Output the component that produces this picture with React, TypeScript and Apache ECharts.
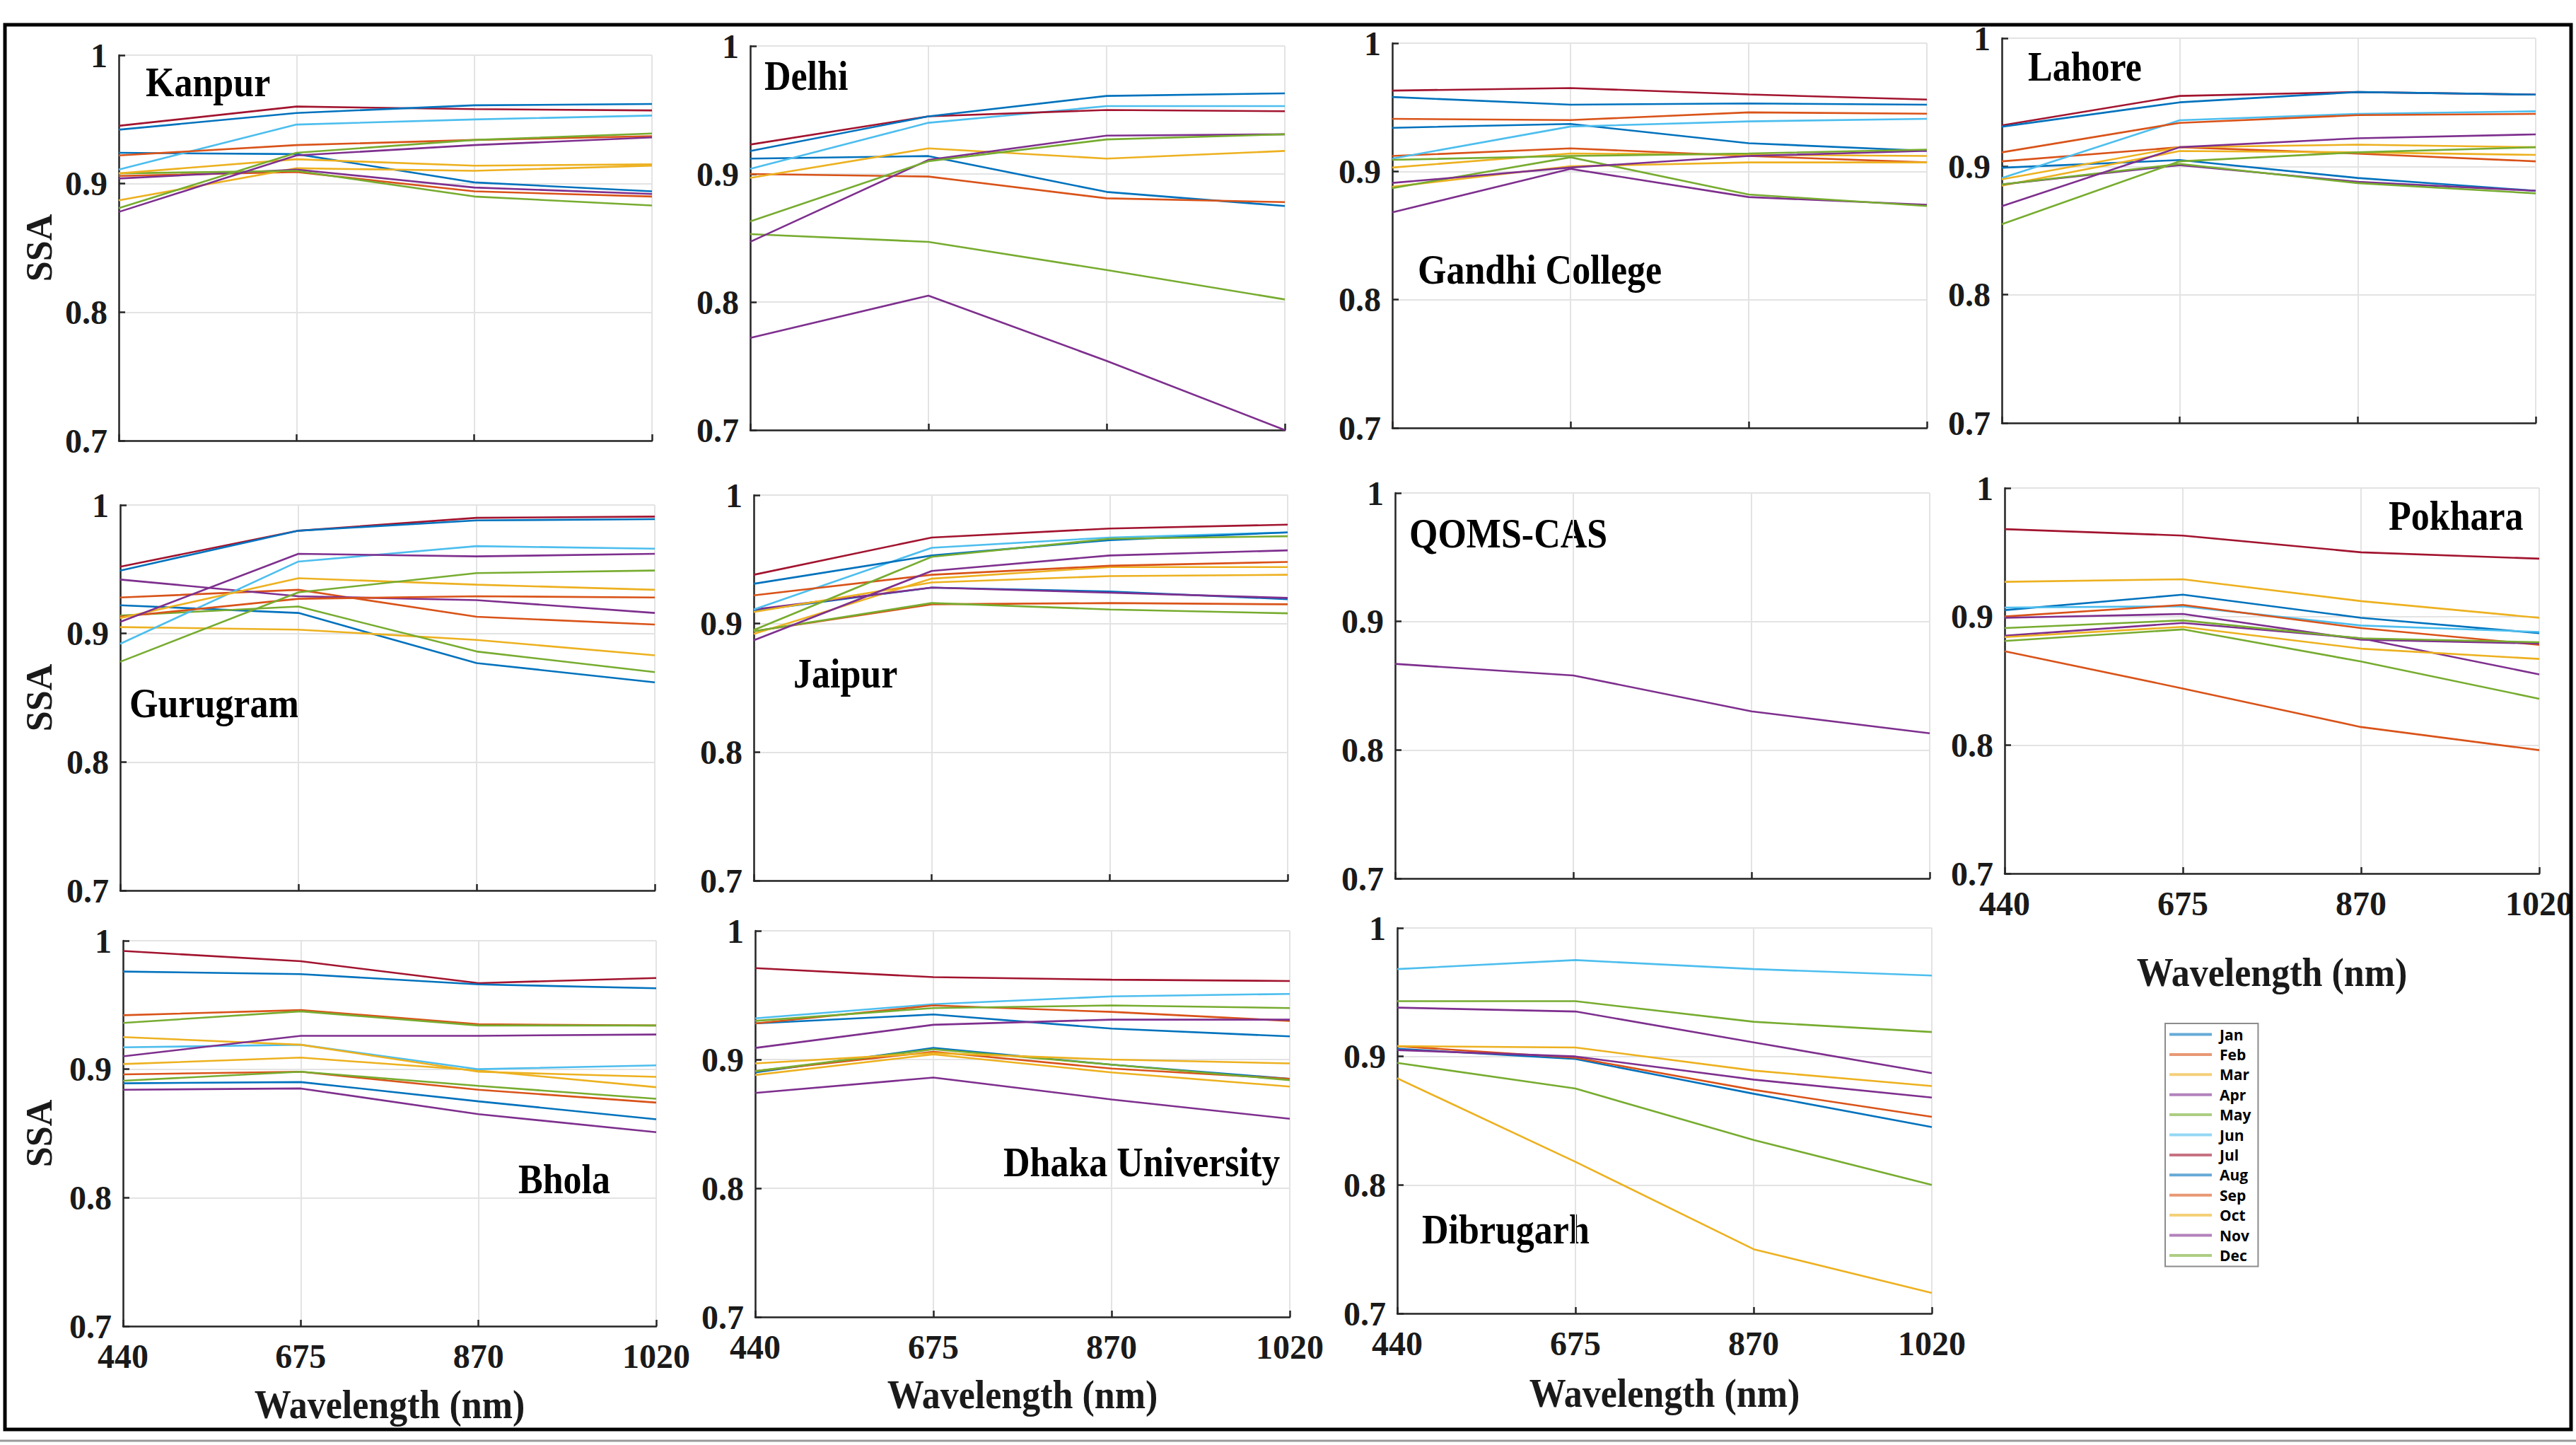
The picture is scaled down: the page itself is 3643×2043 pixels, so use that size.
import React, { useEffect, useRef } from 'react';
import * as echarts from 'echarts';

const MONTHS = ['Jan', 'Feb', 'Mar', 'Apr', 'May', 'Jun', 'Jul', 'Aug', 'Sep', 'Oct', 'Nov', 'Dec'];
const MONTH_COLORS = ['#0072BD', '#D95319', '#EDB120', '#7E2F8E', '#77AC30', '#4DBEEE', '#A2142F', '#0072BD', '#D95319', '#EDB120', '#7E2F8E', '#77AC30'];
const WAVELENGTHS = ['440', '675', '870', '1020'];
const SSA_MIN = 0.7;
const SSA_MAX = 1;
const SSA_STEP = 0.1;

type Row = number[] | null;

// rows: Jan..Dec ; columns: 440, 675, 870, 1020 nm
const KANPUR: Row[] = [
  [0.924, 0.923, 0.901, 0.894],
  [0.906, 0.909, 0.894, 0.890],
  [0.887, 0.912, 0.910, 0.914],
  [0.904, 0.911, 0.897, 0.892],
  [0.908, 0.910, 0.890, 0.883],
  [0.911, 0.946, 0.950, 0.953],
  [0.945, 0.960, 0.958, 0.957],
  [0.942, 0.955, 0.961, 0.962],
  [0.922, 0.930, 0.934, 0.937],
  [0.908, 0.919, 0.914, 0.915],
  [0.878, 0.922, 0.930, 0.936],
  [0.881, 0.924, 0.934, 0.939],
];
const DELHI: Row[] = [
  [0.912, 0.914, 0.886, 0.875],
  [0.900, 0.898, 0.881, 0.878],
  null,
  [0.772, 0.805, 0.754, 0.700],
  [0.853, 0.847, 0.825, 0.802],
  [0.904, 0.940, 0.953, 0.953],
  [0.923, 0.945, 0.950, 0.949],
  [0.918, 0.945, 0.961, 0.963],
  null,
  [0.897, 0.920, 0.912, 0.918],
  [0.847, 0.911, 0.930, 0.931],
  [0.863, 0.910, 0.927, 0.931],
];
const GANDHI_COLLEGE: Row[] = [
  [0.934, 0.937, 0.922, 0.916],
  [0.912, 0.918, 0.912, 0.907],
  [0.888, 0.904, 0.907, 0.907],
  [0.868, 0.902, 0.880, 0.874],
  [0.887, 0.911, 0.882, 0.873],
  [0.910, 0.935, 0.939, 0.941],
  [0.963, 0.965, 0.960, 0.956],
  [0.958, 0.952, 0.953, 0.952],
  [0.941, 0.940, 0.946, 0.945],
  [0.903, 0.914, 0.913, 0.912],
  [0.891, 0.903, 0.912, 0.916],
  [0.909, 0.912, 0.914, 0.917],
];
const LAHORE: Row[] = [
  [0.899, 0.905, 0.891, 0.881],
  [0.904, 0.915, 0.910, 0.904],
  [0.885, 0.912, 0.911, 0.909],
  [0.886, 0.901, 0.888, 0.881],
  [0.886, 0.902, 0.887, 0.879],
  [0.891, 0.936, 0.941, 0.943],
  [0.932, 0.955, 0.958, 0.956],
  [0.931, 0.950, 0.958, 0.956],
  [0.911, 0.934, 0.940, 0.941],
  [0.890, 0.915, 0.917, 0.915],
  [0.869, 0.915, 0.922, 0.925],
  [0.855, 0.904, 0.911, 0.915],
];
const GURUGRAM: Row[] = [
  [0.922, 0.916, 0.877, 0.862],
  [0.928, 0.934, 0.913, 0.907],
  [0.905, 0.903, 0.895, 0.883],
  [0.942, 0.929, 0.926, 0.916],
  [0.914, 0.921, 0.886, 0.870],
  [0.892, 0.956, 0.968, 0.966],
  [0.952, 0.980, 0.990, 0.991],
  [0.949, 0.980, 0.988, 0.989],
  [0.913, 0.927, 0.929, 0.928],
  [0.912, 0.943, 0.938, 0.934],
  [0.909, 0.962, 0.960, 0.962],
  [0.878, 0.932, 0.947, 0.949],
];
const JAIPUR: Row[] = [
  [0.910, 0.928, 0.925, 0.919],
  [0.894, 0.915, 0.916, 0.915],
  [0.892, 0.935, 0.944, 0.944],
  [0.911, 0.928, 0.924, 0.920],
  [0.894, 0.916, 0.911, 0.908],
  [0.911, 0.959, 0.967, 0.971],
  [0.938, 0.967, 0.974, 0.977],
  [0.931, 0.953, 0.965, 0.971],
  [0.922, 0.938, 0.945, 0.948],
  [0.909, 0.932, 0.937, 0.938],
  [0.887, 0.941, 0.953, 0.957],
  [0.895, 0.952, 0.966, 0.968],
];
const QOMS_CAS: Row[] = [
  null, null, null,
  [0.867, 0.858, 0.830, 0.813],
  null, null, null, null, null, null, null, null,
];
const POKHARA: Row[] = [
  [0.905, 0.917, 0.899, 0.887],
  [0.873, 0.844, 0.814, 0.796],
  [0.927, 0.929, 0.912, 0.899],
  [0.885, 0.895, 0.883, 0.855],
  [0.881, 0.890, 0.865, 0.836],
  [0.907, 0.908, 0.893, 0.888],
  [0.968, 0.963, 0.950, 0.945],
  null,
  [0.900, 0.909, 0.891, 0.878],
  [0.884, 0.892, 0.875, 0.867],
  [0.899, 0.902, 0.882, 0.879],
  [0.891, 0.897, 0.883, 0.880],
];
const BHOLA: Row[] = [
  [0.889, 0.890, 0.875, 0.861],
  [0.896, 0.898, 0.884, 0.874],
  [0.904, 0.909, 0.899, 0.886],
  [0.884, 0.885, 0.865, 0.851],
  [0.891, 0.898, 0.887, 0.877],
  [0.917, 0.919, 0.900, 0.903],
  [0.992, 0.984, 0.967, 0.971],
  [0.976, 0.974, 0.966, 0.963],
  [0.942, 0.946, 0.935, 0.934],
  [0.925, 0.919, 0.898, 0.894],
  [0.910, 0.926, 0.926, 0.927],
  [0.936, 0.945, 0.934, 0.934],
];
const DHAKA_UNIVERSITY: Row[] = [
  [0.890, 0.909, 0.896, 0.885],
  [0.891, 0.906, 0.893, 0.885],
  [0.888, 0.904, 0.890, 0.879],
  [0.874, 0.886, 0.869, 0.854],
  [0.891, 0.908, 0.896, 0.884],
  [0.932, 0.943, 0.949, 0.951],
  [0.971, 0.964, 0.962, 0.961],
  [0.928, 0.935, 0.924, 0.918],
  [0.928, 0.942, 0.937, 0.930],
  [0.897, 0.905, 0.900, 0.897],
  [0.909, 0.927, 0.931, 0.931],
  [0.930, 0.940, 0.942, 0.940],
];
const DIBRUGARH: Row[] = [
  [0.906, 0.898, 0.871, 0.845],
  [0.908, 0.899, 0.874, 0.853],
  [0.883, 0.818, 0.750, 0.716],
  [0.905, 0.900, 0.882, 0.868],
  [0.895, 0.875, 0.835, 0.800],
  [0.968, 0.975, 0.968, 0.963],
  null,
  null,
  null,
  [0.908, 0.907, 0.889, 0.877],
  [0.938, 0.935, 0.911, 0.887],
  [0.943, 0.943, 0.927, 0.919],
];

// layout (pixels)
const PANELS = [
  { title: 'Kanpur', data: KANPUR, box: [168, 78, 754, 545], tx: 206, ty: 116, xl: false, ssa: true, wl: 0 },
  { title: 'Delhi', data: DELHI, box: [1061, 65, 756, 543], tx: 1081, ty: 107, xl: false, ssa: false, wl: 0 },
  { title: 'Gandhi College', data: GANDHI_COLLEGE, box: [1969, 61, 756, 544], tx: 2005, ty: 381, xl: false, ssa: false, wl: 0 },
  { title: 'Lahore', data: LAHORE, box: [2831, 54, 755, 544], tx: 2868, ty: 94, xl: false, ssa: false, wl: 0 },
  { title: 'Gurugram', data: GURUGRAM, box: [170, 714, 756, 545], tx: 183, ty: 994, xl: false, ssa: true, wl: 0 },
  { title: 'Jaipur', data: JAIPUR, box: [1066, 700, 755, 545], tx: 1122, ty: 952, xl: false, ssa: false, wl: 0 },
  { title: 'QOMS-CAS', data: QOMS_CAS, box: [1973, 697, 756, 545], tx: 1993, ty: 754, xl: false, ssa: false, wl: 0 },
  { title: 'Pokhara', data: POKHARA, box: [2835, 690, 756, 545], tx: 3378, ty: 729, xl: true, ssa: false, wl: 1375 },
  { title: 'Bhola', data: BHOLA, box: [174, 1330, 754, 545], tx: 733, ty: 1667, xl: true, ssa: true, wl: 1986 },
  { title: 'Dhaka University', data: DHAKA_UNIVERSITY, box: [1068, 1316, 756, 546], tx: 1419, ty: 1643, xl: true, ssa: false, wl: 1972 },
  { title: 'Dibrugarh', data: DIBRUGARH, box: [1976, 1312, 756, 545], tx: 2011, ty: 1738, xl: true, ssa: false, wl: 1970 },
];

const SERIF = '"Liberation Serif", "Times New Roman", serif';
const AXIS_COLOR = '#262626';
const GRID_COLOR = '#e3e3e3';

export default function App() {
  const ref = useRef<HTMLDivElement>(null);

  useEffect(() => {
    if (!ref.current) return;
    const chart = echarts.init(ref.current, null, { renderer: 'svg' });

    const grids: any[] = [];
    const xAxes: any[] = [];
    const yAxes: any[] = [];
    const series: any[] = [];
    const graphics: any[] = [];

    PANELS.forEach((p, i) => {
      const [l, t, w, h] = p.box;
      grids.push({ left: l, top: t, width: w, height: h });
      xAxes.push({
        type: 'category',
        gridIndex: i,
        data: WAVELENGTHS,
        boundaryGap: false,
        axisLine: { show: true, lineStyle: { color: AXIS_COLOR, width: 2.5 } },
        axisTick: { show: true, inside: true, length: 9, lineStyle: { color: AXIS_COLOR, width: 2.5 } },
        axisLabel: {
          show: p.xl,
          margin: 18,
          fontFamily: SERIF,
          fontWeight: 'bold',
          fontSize: 48,
          color: '#1a1a1a',
        },
        splitLine: { show: true, lineStyle: { color: GRID_COLOR, width: 2 } },
      });
      yAxes.push({
        type: 'value',
        gridIndex: i,
        min: SSA_MIN,
        max: SSA_MAX,
        interval: SSA_STEP,
        axisLine: { show: true, lineStyle: { color: AXIS_COLOR, width: 2.5 } },
        axisTick: { show: true, inside: true, length: 9, lineStyle: { color: AXIS_COLOR, width: 2.5 } },
        axisLabel: {
          show: true,
          margin: 16,
          fontFamily: SERIF,
          fontWeight: 'bold',
          fontSize: 48,
          color: '#1a1a1a',
          formatter: (v: number) => (v > 0.99 ? '1' : (Math.round(v * 10) / 10).toFixed(1)),
        },
        splitLine: { show: true, lineStyle: { color: GRID_COLOR, width: 2 } },
      });
      MONTHS.forEach((m, k) => {
        const d = p.data[k];
        if (!d) return;
        series.push({
          type: 'line',
          name: m,
          xAxisIndex: i,
          yAxisIndex: i,
          data: d,
          symbol: 'none',
          showSymbol: false,
          silent: true,
          itemStyle: { color: MONTH_COLORS[k] },
          lineStyle: { color: MONTH_COLORS[k], width: 2.6 },
        });
      });

      graphics.push({
        type: 'text',
        x: p.tx,
        y: p.ty,
        scaleY: 1.15,
        silent: true,
        style: {
          text: p.title,
          fontFamily: SERIF,
          fontWeight: 'bold',
          fontSize: 52,
          fill: '#000',
          align: 'left',
          verticalAlign: 'middle',
        },
      });
      if (p.ssa) {
        graphics.push({
          type: 'text',
          x: 55,
          y: t + h / 2,
          rotation: Math.PI / 2,
          silent: true,
          style: {
            text: 'SSA',
            fontFamily: SERIF,
            fontWeight: 'bold',
            fontSize: 52,
            fill: '#1a1a1a',
            align: 'center',
            verticalAlign: 'middle',
          },
        });
      }
      if (p.wl) {
        graphics.push({
          type: 'text',
          x: l + w / 2,
          y: p.wl,
          scaleY: 1.1,
          silent: true,
          style: {
            text: 'Wavelength (nm)',
            fontFamily: SERIF,
            fontWeight: 'bold',
            fontSize: 52,
            fill: '#1a1a1a',
            align: 'center',
            verticalAlign: 'middle',
          },
        });
      }
    });

    graphics.push({
      type: 'rect',
      silent: true,
      z: 100,
      shape: { x: 7, y: 35, width: 3629, height: 1986 },
      style: { fill: 'none', stroke: '#000', lineWidth: 5 },
    });
    graphics.push({
      type: 'line',
      silent: true,
      z: 100,
      shape: { x1: 0, y1: 2037, x2: 3643, y2: 2037 },
      style: { stroke: '#9a9a9a', lineWidth: 3 },
    });

    chart.setOption({
      animation: false,
      backgroundColor: '#ffffff',
      grid: grids,
      xAxis: xAxes,
      yAxis: yAxes,
      series,
      graphic: graphics,
      legend: {
        data: MONTHS,
        orient: 'vertical',
        left: 3062,
        top: 1447,
        icon: 'rect',
        itemWidth: 60,
        itemHeight: 4,
        itemGap: 7.4,
        padding: [5, 10, 5, 6],
        borderColor: '#8c8c8c',
        borderWidth: 2,
        backgroundColor: '#ffffff',
        selectedMode: false,
        itemStyle: { opacity: 0.6 },
        textStyle: {
          fontFamily: '"Open Sans", sans-serif',
          fontWeight: 'bold',
          fontSize: 21,
          lineHeight: 21,
          color: '#000',
          padding: [0, 0, 0, 6],
        },
      },
    });

    return () => chart.dispose();
  }, []);

  return (
    <div
      ref={ref}
      style={{ position: 'fixed', left: 0, top: 0, width: 3643, height: 2043, background: '#fff' }}
    />
  );
}
